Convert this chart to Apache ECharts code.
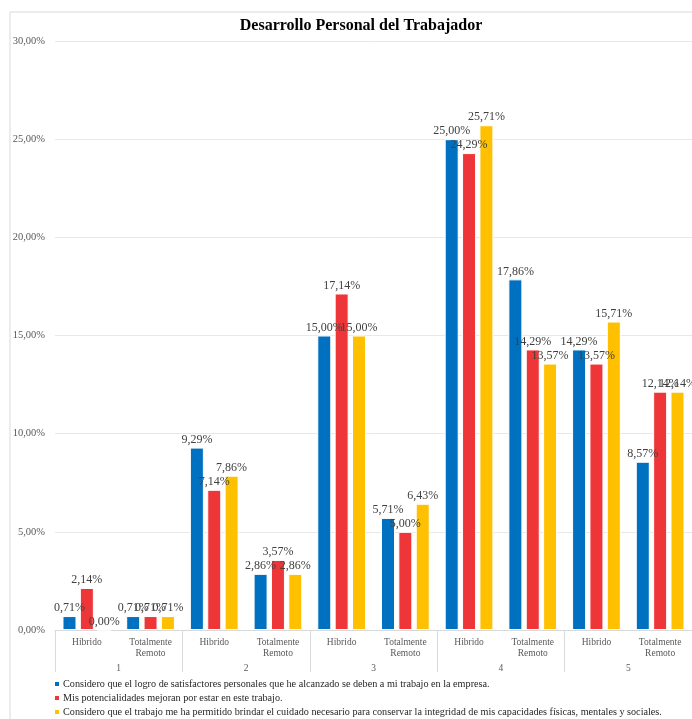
<!DOCTYPE html>
<html><head><meta charset="utf-8">
<script src="https://cdn.jsdelivr.net/npm/echarts@6/dist/echarts.min.js"></script>
<style>html,body{margin:0;padding:0;background:#fff}#c{width:692px;height:719px}</style>
</head><body><div id="c"></div>
<script>
const title = 'Desarrollo Personal del Trabajador';
const subCategories = ['Hibrido','Totalmente\nRemoto','Hibrido','Totalmente\nRemoto','Hibrido','Totalmente\nRemoto','Hibrido','Totalmente\nRemoto','Hibrido','Totalmente\nRemoto'];
const groups = ['1','2','3','4','5'];
const seriesNames = [
  'Considero que el logro de satisfactores personales que he alcanzado se deben a mi trabajo en la empresa.',
  'Mis potencialidades mejoran por estar en este trabajo.',
  'Considero que el trabajo me ha permitido brindar el cuidado necesario para conservar la integridad de mis capacidades físicas, mentales y sociales.'
];
const logro = [0.71, 0.71, 9.29, 2.86, 15.00, 5.71, 25.00, 17.86, 14.29, 8.57];
const potencialidades = [2.14, 0.71, 7.14, 3.57, 17.14, 5.00, 24.29, 14.29, 13.57, 12.14];
const cuidado = [0.00, 0.71, 7.86, 2.86, 15.00, 6.43, 25.71, 13.57, 15.71, 12.14];
const yTicks = [0, 5, 10, 15, 20, 25, 30];
const colors = ['#0070C0', '#EE3537', '#FFC000'];

const fmt = v => Number(v).toFixed(2).replace('.', ',') + '%';
const serif = '"Liberation Serif", "Times New Roman", serif';
const chart = echarts.init(document.getElementById('c'));
const mk = (name, data, color) => ({
  name, type: 'bar', data, xAxisIndex: 0,
  barWidth: 14, barGap: '24%',
  itemStyle: { color, borderColor: '#fff', borderWidth: 1 },
  label: { show: true, position: 'top', distance: 2, formatter: p => fmt(p.value),
           fontFamily: serif, fontSize: 12, color: '#404040' }
});
const legendTops = [674, 688, 702];
chart.setOption({
  animation: false,
  title: { text: title, left: 356, top: 13, textAlign: 'center',
           textStyle: { fontFamily: serif, fontSize: 16, fontWeight: 'bold', color: '#000' } },
  graphic: [{ type: 'rect', shape: { x: 10, y: 12, width: 700, height: 720 },
              style: { fill: 'none', stroke: '#d9d9d9', lineWidth: 1 }, silent: true }],
  grid: { left: 55, top: 41, bottom: 89, width: 643, containLabel: false },
  legend: seriesNames.map((n, i) => ({
    orient: 'horizontal', left: 48, top: legendTops[i], itemWidth: 6, itemHeight: 6,
    icon: 'rect', textStyle: { fontFamily: serif, fontSize: 10.2, color: '#262626', padding: [0, 0, 0, -2] },
    data: [n]
  })),
  xAxis: [
    { type: 'category', data: subCategories, position: 'bottom',
      axisLine: { lineStyle: { color: '#d9d9d9' } }, axisTick: { show: false },
      axisLabel: { fontFamily: serif, fontSize: 9.5, color: '#595959', margin: 7, lineHeight: 11, interval: 0 } },
    { type: 'category', data: groups, position: 'bottom',
      axisLine: { show: false },
      axisTick: { show: true, length: 42, lineStyle: { color: '#d9d9d9' } },
      axisLabel: { fontFamily: serif, fontSize: 9.5, color: '#595959', margin: 33 } }
  ],
  yAxis: {
    type: 'value', min: yTicks[0], max: yTicks[yTicks.length - 1], interval: 5,
    axisLine: { show: false }, axisTick: { show: false },
    splitLine: { lineStyle: { color: '#e8e8e8' } },
    axisLabel: { formatter: fmt, fontFamily: serif, fontSize: 10.5, color: '#595959', margin: 10 }
  },
  series: [
    mk(seriesNames[0], logro, colors[0]),
    mk(seriesNames[1], potencialidades, colors[1]),
    mk(seriesNames[2], cuidado, colors[2])
  ]
});
</script></body></html>
